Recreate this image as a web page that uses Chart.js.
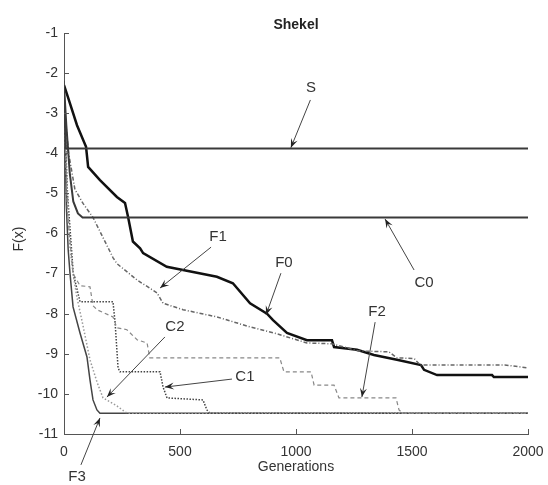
<!DOCTYPE html>
<html>
<head>
<meta charset="utf-8">
<script src="https://cdn.jsdelivr.net/npm/chart.js@4/dist/chart.umd.min.js"></script>
<style>
  html, body { margin: 0; padding: 0; background: #fff; }
  #wrap { width: 548px; height: 485px; }
</style>
</head>
<body>
<div id="wrap"><canvas id="chart" width="548" height="485"></canvas></div>
<script>
// Shekel - best F(x) per generation
const xTicks = [0, 500, 1000, 1500, 2000];
const yTicks = [-1, -2, -3, -4, -5, -6, -7, -8, -9, -10, -11];

const sGen = [0, 8, 2000];
const sVal = [-2.6, -3.88, -3.88];

const c0Gen = [0, 10, 25, 40, 60, 80, 2000];
const c0Val = [-2.3, -3.3, -4.5, -5.2, -5.5, -5.6, -5.6];

const f0Gen = [0, 17, 56, 95, 104, 155, 228, 263, 276, 297, 328, 341, 443, 513, 659, 728, 802, 875, 901, 961, 1047, 1155, 1164, 1263, 1336, 1435, 1539, 1552, 1608, 1845, 1853, 2000];
const f0Val = [-2.3, -2.6, -3.3, -3.84, -4.34, -4.67, -5.09, -5.24, -5.58, -6.2, -6.37, -6.49, -6.83, -6.91, -7.08, -7.24, -7.74, -8.0, -8.16, -8.48, -8.66, -8.66, -8.83, -8.9, -9.03, -9.15, -9.28, -9.4, -9.53, -9.53, -9.58, -9.58];

const f1Gen = [0, 20, 47, 82, 125, 168, 211, 228, 315, 401, 427, 513, 659, 802, 905, 1047, 1155, 1270, 1400, 1435, 1510, 1535, 1900, 2000];
const f1Val = [-2.8, -4.0, -4.9, -5.25, -5.6, -6.1, -6.6, -6.75, -7.16, -7.48, -7.74, -7.9, -8.08, -8.33, -8.48, -8.73, -8.75, -8.93, -8.95, -9.1, -9.12, -9.28, -9.28, -9.35];

const f2Gen = [0, 15, 39, 69, 112, 125, 142, 211, 228, 271, 315, 358, 370, 930, 948, 1065, 1078, 1164, 1185, 1431, 1444, 1460, 2000];
const f2Val = [-2.5, -5.5, -7.0, -7.3, -7.33, -7.8, -7.9, -8.08, -8.35, -8.4, -8.65, -8.73, -9.1, -9.1, -9.45, -9.45, -9.78, -9.78, -10.1, -10.1, -10.4, -10.48, -10.48];

const c1Gen = [0, 15, 40, 69, 211, 220, 233, 241, 414, 427, 444, 599, 616, 629, 2000];
const c1Val = [-2.6, -5.0, -7.0, -7.7, -7.7, -8.2, -9.35, -9.45, -9.45, -9.83, -10.1, -10.15, -10.4, -10.48, -10.48];

const c2Gen = [0, 10, 25, 39, 56, 82, 112, 142, 168, 228, 271, 2000];
const c2Val = [-2.4, -4.5, -6.3, -7.0, -7.6, -8.3, -9.15, -9.7, -10.1, -10.3, -10.48, -10.48];

const f3Gen = [0, 5, 10, 18, 26, 39, 69, 99, 112, 125, 142, 155, 2000];
const f3Val = [-2.2, -3.8, -5.3, -6.4, -7.0, -7.83, -8.48, -9.08, -9.65, -10.15, -10.4, -10.48, -10.48];

// labels with arrows (data coords): text pos, arrow start, arrow tip
const notes = [
    { text: 'S',  tx: 1065, ty: -2.37, x1: 1062, y1: -2.67, x2: 978,  y2: -3.86 },
    { text: 'C0', tx: 1552, ty: -7.23, x1: 1509, y1: -6.91, x2: 1384, y2: -5.64 },
    { text: 'F1', tx: 664,  ty: -6.09, x1: 634,  y1: -6.34, x2: 414,  y2: -7.36 },
    { text: 'F0', tx: 948,  ty: -6.74, x1: 935,  y1: -6.99, x2: 871,  y2: -8.03 },
    { text: 'C2', tx: 478,  ty: -8.33, x1: 435,  y1: -8.58, x2: 185,  y2: -10.08 },
    { text: 'C1', tx: 780,  ty: -9.58, x1: 724,  y1: -9.63, x2: 435,  y2: -9.83 },
    { text: 'F2', tx: 1349, ty: -7.96, x1: 1341, y1: -8.21, x2: 1284, y2: -10.08 },
    { text: 'F3', tx: 56,   ty: -12.07, x1: 73,  y1: -11.77, x2: 155, y2: -10.6 }
];

function pts(gen, val) {
    return gen.map((g, i) => ({ x: g, y: val[i] }));
}

function series(label, gen, val, color, width, dash) {
    return {
        label: label,
        data: pts(gen, val),
        borderColor: color,
        borderWidth: width,
        borderDash: dash,
        pointRadius: 0,
        fill: false,
        tension: 0
    };
}

const FONT = '"Liberation Sans", Arial, sans-serif';

const extras = {
    id: 'extras',
    afterDraw(chart) {
        const ctx = chart.ctx;
        const xs = chart.scales.x;
        const ys = chart.scales.y;
        const area = chart.chartArea;
        ctx.save();

        // inward ticks
        ctx.strokeStyle = '#555';
        ctx.lineWidth = 1;
        ctx.beginPath();
        yTicks.forEach(v => {
            const py = Math.round(ys.getPixelForValue(v)) + 0.5;
            ctx.moveTo(area.left, py);
            ctx.lineTo(area.left + 5, py);
        });
        xTicks.forEach(v => {
            const px = Math.round(xs.getPixelForValue(v)) + 0.5;
            ctx.moveTo(px, area.bottom);
            ctx.lineTo(px, area.bottom - 5);
        });
        ctx.stroke();

        // annotations
        ctx.font = '15px ' + FONT;
        ctx.fillStyle = '#333';
        ctx.textAlign = 'center';
        ctx.textBaseline = 'middle';
        notes.forEach(n => {
            ctx.fillText(n.text, xs.getPixelForValue(n.tx), ys.getPixelForValue(n.ty));
            const ax = xs.getPixelForValue(n.x1), ay = ys.getPixelForValue(n.y1);
            const bx = xs.getPixelForValue(n.x2), by = ys.getPixelForValue(n.y2);
            ctx.strokeStyle = '#444';
            ctx.lineWidth = 1;
            ctx.beginPath();
            ctx.moveTo(ax, ay);
            ctx.lineTo(bx, by);
            ctx.stroke();
            const ang = Math.atan2(by - ay, bx - ax);
            const len = 9, half = 3.5;
            ctx.fillStyle = '#222';
            ctx.beginPath();
            ctx.moveTo(bx, by);
            ctx.lineTo(bx - len * Math.cos(ang) + half * Math.sin(ang), by - len * Math.sin(ang) - half * Math.cos(ang));
            ctx.lineTo(bx - len * 0.6 * Math.cos(ang), by - len * 0.6 * Math.sin(ang));
            ctx.lineTo(bx - len * Math.cos(ang) - half * Math.sin(ang), by - len * Math.sin(ang) + half * Math.cos(ang));
            ctx.closePath();
            ctx.fill();
            ctx.fillStyle = '#333';
        });

        // title and axis titles
        ctx.fillStyle = '#222';
        ctx.font = 'bold 14px ' + FONT;
        ctx.fillText('Shekel', (area.left + area.right) / 2, 25);
        ctx.font = '14px ' + FONT;
        ctx.fillStyle = '#333';
        ctx.fillText('Generations', (area.left + area.right) / 2, 467);
        ctx.translate(19, 239);
        ctx.rotate(-Math.PI / 2);
        ctx.fillText('F(x)', 0, 0);
        ctx.restore();
    }
};

new Chart(document.getElementById('chart').getContext('2d'), {
    type: 'line',
    data: {
        datasets: [
            series('S', sGen, sVal, '#3a3a3a', 2, []),
            series('C0', c0Gen, c0Val, '#3a3a3a', 2, []),
            series('F1', f1Gen, f1Val, '#666', 1.5, [4, 2, 1, 2]),
            series('F2', f2Gen, f2Val, '#888', 1.2, [4, 3]),
            series('C2', c2Gen, c2Val, '#999', 1.5, [1.5, 2]),
            series('C1', c1Gen, c1Val, '#444', 1.5, [1.5, 1.5]),
            series('F3', f3Gen, f3Val, '#444', 1.5, []),
            series('F0', f0Gen, f0Val, '#111', 2.5, [])
        ]
    },
    options: {
        responsive: false,
        animation: false,
        devicePixelRatio: 1,
        layout: { padding: { top: 33, right: 20, left: 0, bottom: 0 } },
        plugins: {
            legend: { display: false },
            title: { display: false },
            tooltip: { enabled: false }
        },
        scales: {
            x: {
                type: 'linear',
                min: 0,
                max: 2000,
                afterFit: s => { s.height = 51; s.paddingRight = 0; },
                afterBuildTicks: s => { s.ticks = xTicks.map(v => ({ value: v })); },
                ticks: { color: '#333', padding: 10, maxRotation: 0, font: { family: FONT, size: 14 }, callback: v => String(v) },
                grid: { display: false, drawTicks: false },
                border: { display: true, color: '#555', width: 1 }
            },
            y: {
                type: 'linear',
                min: -11,
                max: -1,
                afterFit: s => { s.width = 64; },
                afterBuildTicks: s => { s.ticks = yTicks.map(v => ({ value: v })); },
                ticks: { color: '#333', padding: 6, font: { family: FONT, size: 14 } },
                grid: { display: false, drawTicks: false },
                border: { display: true, color: '#555', width: 1 }
            }
        }
    },
    plugins: [extras]
});
</script>
</body>
</html>
